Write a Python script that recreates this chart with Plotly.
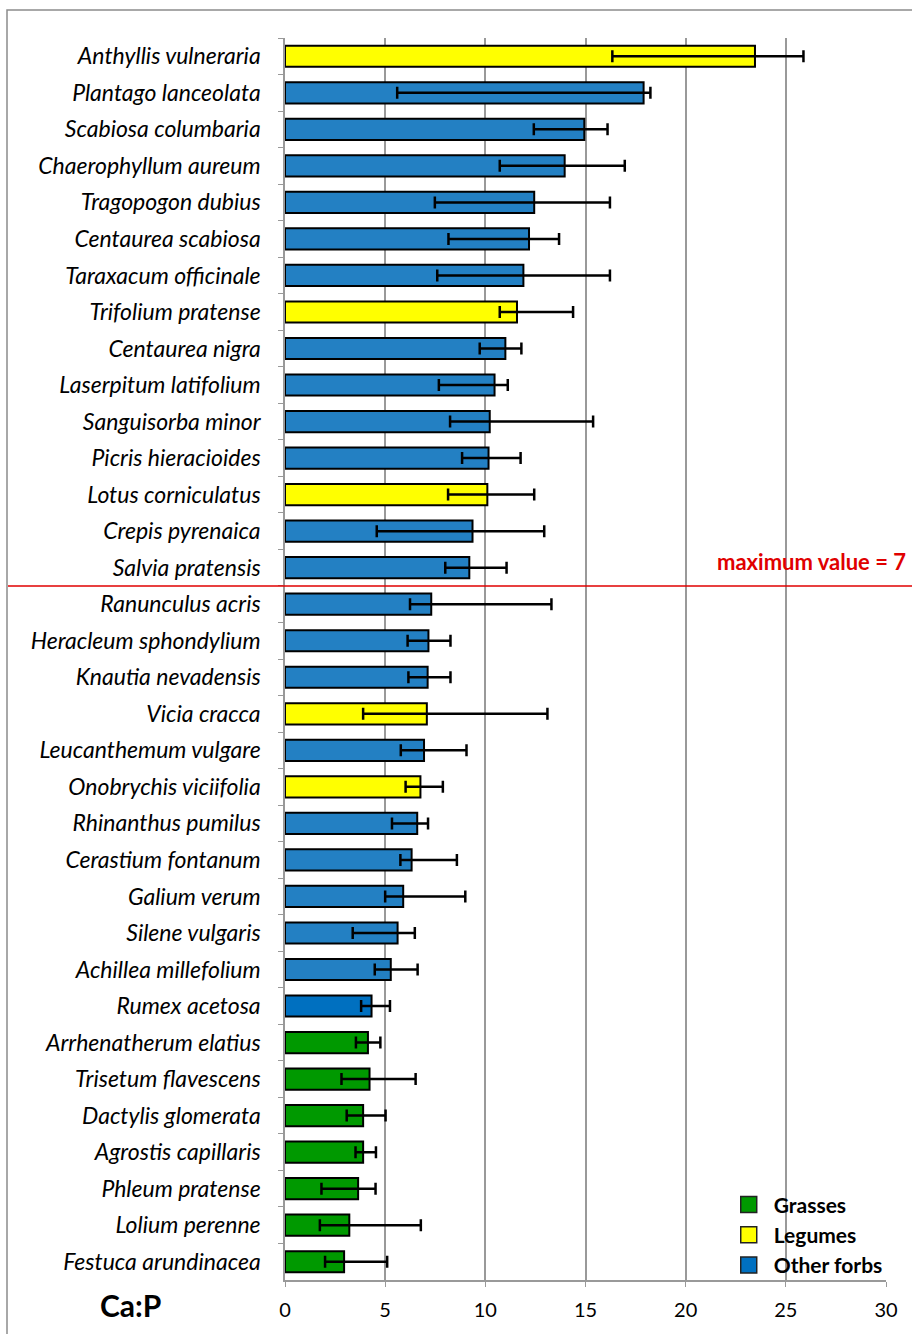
import plotly.graph_objects as go

species = ["Anthyllis vulneraria", "Plantago lanceolata", "Scabiosa columbaria", "Chaerophyllum aureum",
           "Tragopogon dubius", "Centaurea scabiosa", "Taraxacum officinale", "Trifolium pratense",
           "Centaurea nigra", "Laserpitum latifolium", "Sanguisorba minor", "Picris hieracioides",
           "Lotus corniculatus", "Crepis pyrenaica", "Salvia pratensis", "Ranunculus acris",
           "Heracleum sphondylium", "Knautia nevadensis", "Vicia cracca", "Leucanthemum vulgare",
           "Onobrychis viciifolia", "Rhinanthus pumilus", "Cerastium fontanum", "Galium verum",
           "Silene vulgaris", "Achillea millefolium", "Rumex acetosa", "Arrhenatherum elatius",
           "Trisetum flavescens", "Dactylis glomerata", "Agrostis capillaris", "Phleum pratense",
           "Lolium perenne", "Festuca arundinacea"]
group = ["Legumes", "Other forbs", "Other forbs", "Other forbs", "Other forbs", "Other forbs", "Other forbs",
         "Legumes", "Other forbs", "Other forbs", "Other forbs", "Other forbs", "Legumes", "Other forbs",
         "Other forbs", "Other forbs", "Other forbs", "Other forbs", "Legumes", "Other forbs", "Legumes",
         "Other forbs", "Other forbs", "Other forbs", "Other forbs", "Other forbs", "Other forbs",
         "Grasses", "Grasses", "Grasses", "Grasses", "Grasses", "Grasses", "Grasses"]
value = [23.46, 17.9, 14.94, 13.96, 12.44, 12.18, 11.9, 11.58, 11.0, 10.46, 10.22, 10.16, 10.1, 9.36, 9.2,
         7.3, 7.16, 7.12, 7.08, 6.94, 6.76, 6.6, 6.32, 5.9, 5.62, 5.28, 4.32, 4.14, 4.22, 3.9, 3.9, 3.65,
         3.21, 2.95]
err_low = [16.34, 5.6, 12.42, 10.72, 7.48, 8.16, 7.6, 10.72, 9.72, 7.68, 8.24, 8.84, 8.14, 4.58, 8.0,
           6.24, 6.12, 6.16, 3.9, 5.78, 6.02, 5.34, 5.76, 5.0, 3.38, 4.48, 3.8, 3.54, 2.82, 3.08, 3.52,
           1.82, 1.74, 2.0]
err_high = [25.88, 18.24, 16.1, 16.96, 16.22, 13.68, 16.22, 14.38, 11.8, 11.12, 15.38, 11.76, 12.44, 12.94,
            11.06, 13.3, 8.26, 8.26, 13.1, 9.06, 7.88, 7.14, 8.58, 9.0, 6.48, 6.62, 5.24, 4.76, 6.52, 5.02,
            4.54, 4.52, 6.78, 5.1]
group_order = ["Grasses", "Legumes", "Other forbs"]
group_colors = {"Grasses": "#009900", "Legumes": "#FFFF00", "Other forbs": "#2380C3"}
legend_colors = {"Grasses": "#009900", "Legumes": "#FFFF00", "Other forbs": "#0070C0"}
special_colors = {"Rumex acetosa": "#0070C0"}
threshold_label = "maximum value = 7"
x_ticks = [0, 5, 10, 15, 20, 25, 30]

FONT = "Lato"
fig = go.Figure()
for g in group_order:
    idx = [i for i, gg in enumerate(group) if gg == g]
    ys = [species[i] for i in idx]
    xs = [value[i] for i in idx]
    plus = [err_high[i] - value[i] for i in idx]
    minus = [value[i] - err_low[i] for i in idx]
    cols = [special_colors.get(species[i], group_colors[g]) for i in idx]
    fig.add_trace(go.Bar(
        y=ys, x=xs, orientation="h", name=g,
        marker=dict(color=cols, line=dict(color="black", width=2)),
        error_x=dict(type="data", array=plus, arrayminus=minus, color="black", thickness=2.5, width=6),
        showlegend=False,
    ))
    # legend proxy
    fig.add_trace(go.Scatter(
        x=[None], y=[None], mode="markers", name=g,
        marker=dict(symbol="square", size=16, color=legend_colors[g], line=dict(color="#222", width=1.5)),
    ))

fig.update_layout(
    width=912, height=1334,
    margin=dict(l=285, r=26, t=38, b=54),
    paper_bgcolor="white", plot_bgcolor="white",
    barmode="overlay", bargap=0.42,
    font=dict(family=FONT, color="black"),
    legend=dict(x=0.73, y=0.077, xanchor="left", yanchor="top",
                font=dict(family=FONT, size=21, weight="bold"), itemwidth=40,
                bgcolor="rgba(0,0,0,0)", tracegroupgap=0),
    xaxis=dict(range=[0, 30], tickvals=x_ticks, showgrid=True, gridcolor="#999", gridwidth=1.5,
               showline=True, linecolor="#999", linewidth=1.5, ticks="outside", ticklen=5,
               tickcolor="#999", tickfont=dict(family=FONT, size=20), zeroline=False, fixedrange=True,
               ticklabelstandoff=6),
    yaxis=dict(categoryorder="array", categoryarray=species, autorange="reversed",
               showline=True, linecolor="#999", linewidth=1.5, ticks="outside", ticklen=5,
               tickcolor="#999", tickson="boundaries", showgrid=False,
               tickfont=dict(family=FONT, size=23, style="italic"), ticklabelstandoff=18),
)

# outer chart border
fig.add_shape(type="rect", xref="paper", yref="paper",
              x0=(7 - 285) / 601, x1=(915 - 285) / 601,
              y0=(1280 - 1340) / 1242, y1=(1280 - 10) / 1242,
              line=dict(color="#8c8c8c", width=1.5), fillcolor="rgba(0,0,0,0)", layer="below")

# threshold line between Salvia and Ranunculus
fig.add_shape(type="line", xref="paper", yref="y",
              x0=(8 - 285) / 601, x1=(915 - 285) / 601, y0=14.5, y1=14.5,
              line=dict(color="#E00000", width=1.5))
fig.add_annotation(xref="paper", yref="paper", x=(908 - 285) / 601, y=(1280 - 561) / 1242,
                   xanchor="right", yanchor="middle", text=threshold_label, showarrow=False,
                   font=dict(family=FONT, size=22, color="#E00000", weight="bold"))
fig.add_annotation(xref="paper", yref="paper", x=(130 - 285) / 601, y=(1280 - 1305) / 1242,
                   xanchor="center", yanchor="middle", text="Ca:P", showarrow=False,
                   font=dict(family=FONT, size=30, color="black", weight="bold"))

fig.write_html("out.html", config={"displayModeBar": False},
               post_script="document.body.style.margin='0';document.body.style.overflow='hidden';")
